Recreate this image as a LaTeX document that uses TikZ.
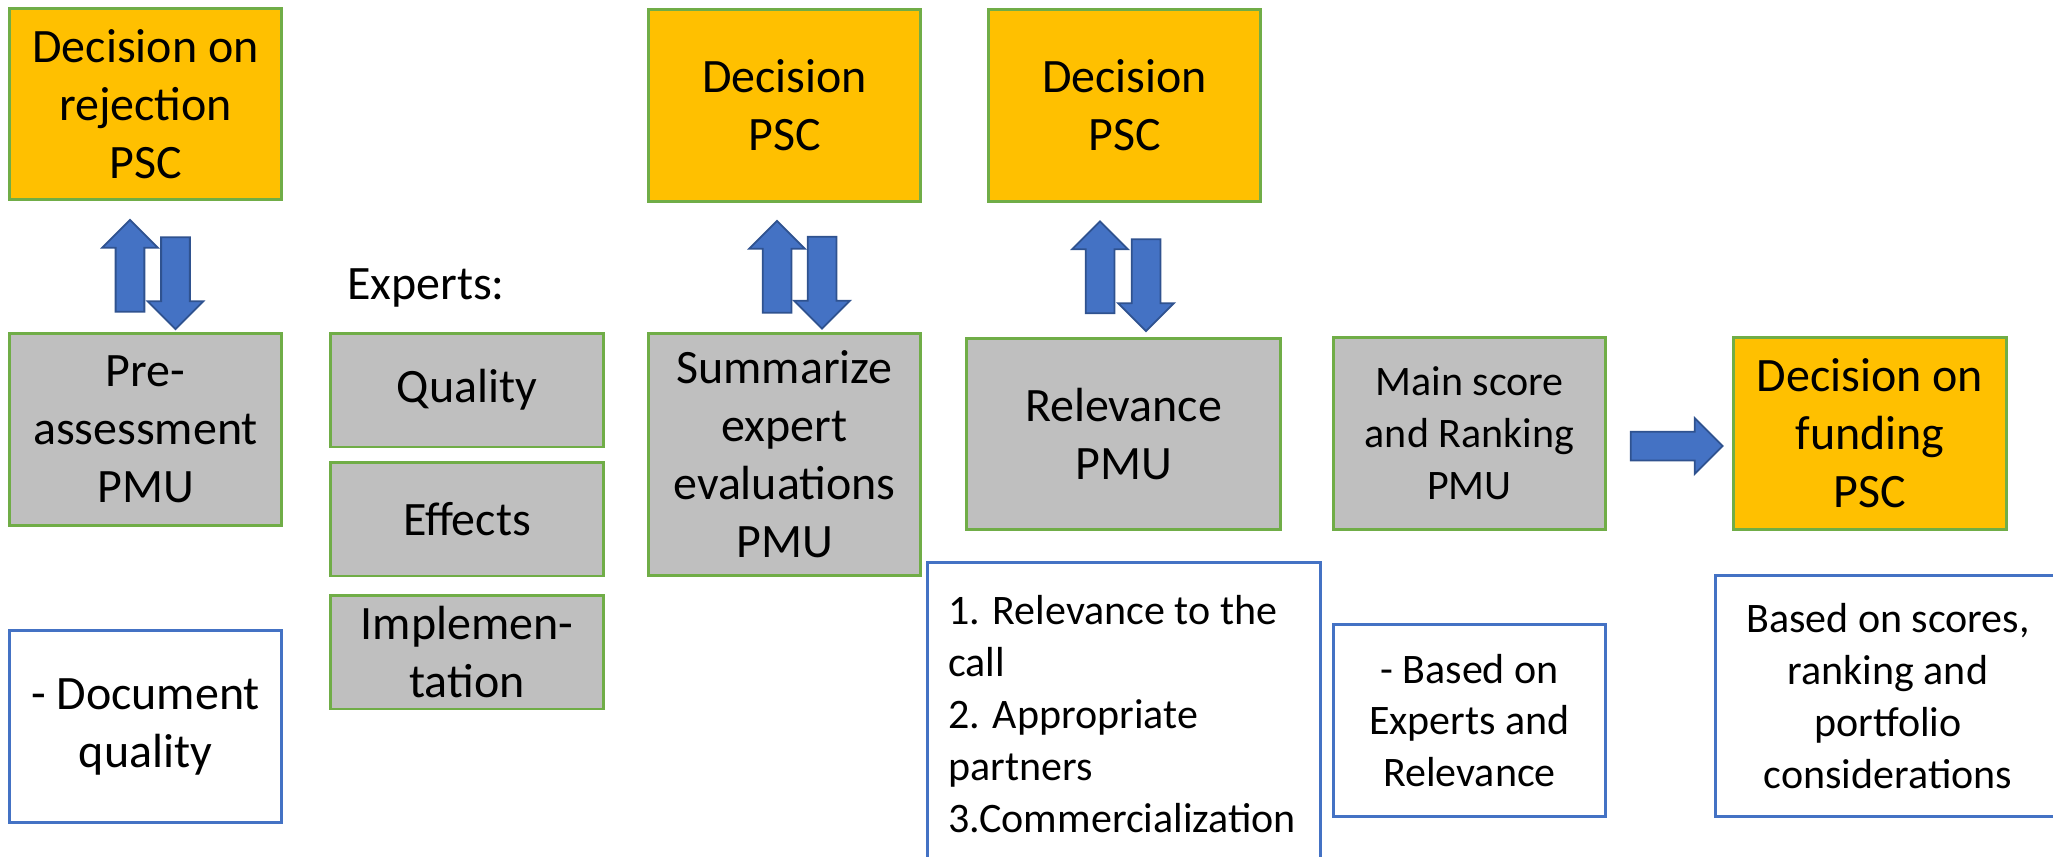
\documentclass[tikz,border=0pt]{standalone}
\usepackage{fontspec}
\setmainfont{Carlito}
\usetikzlibrary{shapes.arrows}

\definecolor{pscorange}{HTML}{FFC000}
\definecolor{pmugray}{HTML}{BFBFBF}
\definecolor{boxgreen}{HTML}{70AD47}
\definecolor{noteblue}{HTML}{4472C4}
\definecolor{arrowfill}{HTML}{4472C4}
\definecolor{arrowedge}{HTML}{2F528F}

\tikzstyle{every node} = [
		font = \fontsize{27.3}{33}\selectfont,
		inner sep = 0pt
	]
\tikzstyle{small} = [
		font = \fontsize{23.9}{29.5}\selectfont
	]
\tikzstyle{decision} = [
		rectangle,
		minimum width = 5.46cm,
		minimum height = 3.84cm,
		draw = boxgreen,
		line width = 1.7pt,
		fill = pscorange,
		align = center
	]
\tikzstyle{task} = [
		decision,
		fill = pmugray
	]
\tikzstyle{expert} = [
		task,
		minimum width = 5.48cm,
		minimum height = 2.28cm
	]
\tikzstyle{note} = [
		rectangle,
		minimum width = 5.46cm,
		minimum height = 3.86cm,
		draw = noteblue,
		line width = 1.7pt,
		fill = white,
		align = center
	]
\tikzstyle{blockarrow} = [
		single arrow,
		inner xsep = 0pt,
		inner ysep = 0.27cm,
		minimum height = 1.84cm,
		single arrow head extend = 0.27cm,
		single arrow tip angle = 90,
		fill = arrowfill,
		draw = arrowedge,
		line width = 1pt
	]

\begin{document}
\begin{tikzpicture}[x = 0.02cm, y = -0.02cm]

	\path [use as bounding box] (0,0) rectangle (2053,856);
	\clip (0,0) rectangle (2053,856);

		%------------------------------Decisions------------------------------
		\node [decision] (rejection) at (145.5,104) {Decision on\\rejection\\PSC};
		\node [decision] (summdecision) at (784.5,105.5) {Decision\\PSC};
		\node [decision] (reldecision) at (1124.5,105.5) {Decision\\PSC};

		%------------------------------Assessment------------------------------
		\node [task] (preassess) at (145.5,429.5) {Pre-\\assessment\\PMU};
		\node (experts) at (426,288) {Experts:};
		\node [expert] (quality) at (467,390) {Quality};
		\node [expert] (effects) at (467,519) {Effects};
		\node [expert] (implement) at (467,652) {Implemen-\\tation};
		\node [task, minimum height = 4.86cm] (summarize) at (784.5,454.5) {Summarize\\expert\\evaluations\\PMU};
		\node [task, minimum width = 6.30cm] (relevance) at (1123.5,434) {Relevance\\PMU};
		\node [task, small] (ranking) at (1469.5,433.5) {Main score\\and Ranking\\PMU};
		\node [decision] (funding) at (1870,433.5) {Decision on\\funding\\PSC};

		%------------------------------Notes------------------------------
		\node [note] (docquality) at (145.5,726.5) {- Document\\quality};
		\node [note, minimum width = 7.88cm, minimum height = 6.56cm] (criteria) at (1124,726) {};
		\node [small, align = left, anchor = west] (criterialist) at (948,714) {1. Relevance to the\\call\\2. Appropriate\\partners\\3.Commercialization};
		\node [note, small] (basis) at (1469.5,720.5) {- Based on\\Experts and\\Relevance};
		\node [note, small, minimum width = 6.92cm, minimum height = 4.84cm] (portfolio) at (1888,696) {Based on scores,\\ranking and\\portfolio\\considerations};

		%------------------------------Arrows------------------------------
		\node [blockarrow, rotate = 90] (up1) at (130,273) {};
		\node [blockarrow, rotate = -90] (down1) at (175.5,276) {};
		\node [blockarrow, rotate = 90] (up2) at (777,274) {};
		\node [blockarrow, rotate = -90] (down2) at (822,275.5) {};
		\node [blockarrow, rotate = 90] (up3) at (1100,274.5) {};
		\node [blockarrow, rotate = -90] (down3) at (1146,278) {};
		\node [blockarrow] (forward) at (1669.5,446) {};

\end{tikzpicture}
\end{document}
